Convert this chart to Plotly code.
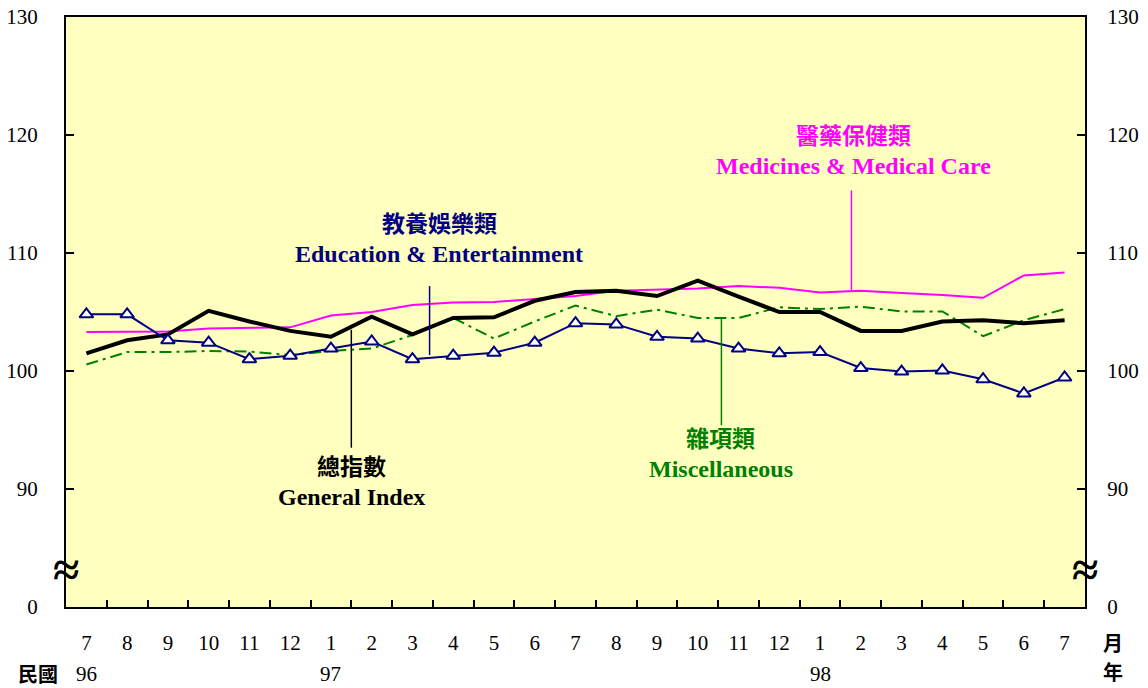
import plotly.graph_objects as go

months = ["7", "8", "9", "10", "11", "12", "1", "2", "3", "4", "5", "6", "7",
          "8", "9", "10", "11", "12", "1", "2", "3", "4", "5", "6", "7"]
year_labels = ["96", "97", "98"]
year_pos = [0, 6, 18]

general = [101.5, 102.6, 103.1, 105.1, 104.2, 103.4, 102.9, 104.6, 103.1, 104.5,
           104.55, 105.95, 106.7, 106.8, 106.35, 107.65, 106.3, 105.0, 105.0, 103.4,
           103.4, 104.2, 104.3, 104.05, 104.3]
medicine = [103.3, 103.3, 103.35, 103.6, 103.65, 103.7, 104.7, 105.0, 105.6, 105.8,
            105.85, 106.1, 106.35, 106.8, 106.9, 107.0, 107.2, 107.05, 106.65, 106.8,
            106.6, 106.45, 106.2, 108.1, 108.35]
misc = [100.55, 101.6, 101.6, 101.7, 101.65, 101.35, 101.7, 101.9, 103.05, 104.5,
        102.75, 104.2, 105.55, 104.65, 105.2, 104.5, 104.5, 105.4, 105.25, 105.45,
        105.05, 105.05, 102.95, 104.3, 105.25]
education = [104.8, 104.8, 102.6, 102.4, 101.0, 101.3, 101.9, 102.5, 101.0, 101.3,
             101.55, 102.4, 104.05, 103.95, 102.9, 102.75, 101.9, 101.5, 101.6, 100.25,
             99.95, 100.05, 99.3, 98.1, 99.45]

y_tickvals = [80, 90, 100, 110, 120, 130]
y_ticktext = ["0", "90", "100", "110", "120", "130"]

x = list(range(len(months)))
FONT = "Liberation Serif, Times New Roman, Noto Sans CJK TC, serif"
CJK = "Noto Sans CJK TC, Liberation Serif, serif"

fig = go.Figure()
fig.add_trace(go.Scatter(x=x, y=medicine, mode="lines",
                         line=dict(color="#FF00FF", width=2), name="Medicines"))
fig.add_trace(go.Scatter(x=x, y=misc, mode="lines",
                         line=dict(color="#008000", width=2, dash="12px,5px,3px,5px"), name="Misc"))
fig.add_trace(go.Scatter(x=x, y=general, mode="lines",
                         line=dict(color="black", width=4), name="General"))
fig.add_trace(go.Scatter(x=x, y=education, mode="lines+markers",
                         line=dict(color="#000080", width=2),
                         marker=dict(symbol="triangle-up", size=12, color="white",
                                     line=dict(color="#000080", width=2)),
                         name="Education"))
# invisible trace for right axis
fig.add_trace(go.Scatter(x=[0], y=[100], yaxis="y2", mode="markers",
                         marker=dict(opacity=0), showlegend=False, hoverinfo="skip"))

fig.update_layout(
    width=1148, height=688,
    margin=dict(l=66, r=63, t=17, b=81, autoexpand=False),
    paper_bgcolor="white", plot_bgcolor="#FFFFC0",
    showlegend=False,
    font=dict(family=FONT, size=21, color="black"),
    xaxis=dict(range=[-0.5, 24.5], tickvals=x, ticktext=months, ticks="",
               showgrid=False, zeroline=False, showline=True, linecolor="black",
               linewidth=2, mirror=True, ticklabelstandoff=16, automargin=False,
               tickfont=dict(family=FONT, size=21),
               minor=dict(tickvals=[i + 0.5 for i in range(24)], ticks="inside",
                          ticklen=7, tickwidth=2, tickcolor="black", showgrid=False)),
    yaxis=dict(range=[80, 130], tickvals=y_tickvals, ticktext=y_ticktext,
               ticks="inside", ticklen=8, tickwidth=2, tickcolor="black",
               showgrid=False, zeroline=False, showline=True, linecolor="black",
               linewidth=2, ticklabelstandoff=22, automargin=False,
               tickfont=dict(family=FONT, size=21)),
    yaxis2=dict(range=[80, 130], tickvals=y_tickvals, ticktext=y_ticktext,
                overlaying="y", side="right", anchor="x",
                ticks="inside", ticklen=8, tickwidth=2, tickcolor="black",
                showgrid=False, zeroline=False, showline=True, linecolor="black",
                linewidth=2, ticklabelstandoff=16, automargin=False,
                tickfont=dict(family=FONT, size=21)),
)

# year annotations
for lbl, pos in zip(year_labels, year_pos):
    fig.add_annotation(x=pos, y=-0.1136, xref="x", yref="paper", text=lbl,
                       showarrow=False, font=dict(family=FONT, size=21),
                       xanchor="center", yanchor="middle")
fig.add_annotation(x=-0.0275, y=-0.112, xref="paper", yref="paper", text="<b>民國</b>",
                   showarrow=False, font=dict(family=CJK, size=20),
                   xanchor="center", yanchor="middle", borderpad=0)
fig.add_annotation(x=1.0275, y=-0.061, xref="paper", yref="paper", text="<b>月</b>",
                   showarrow=False, font=dict(family=CJK, size=20),
                   xanchor="center", yanchor="middle", borderpad=0)
fig.add_annotation(x=1.0275, y=-0.11, xref="paper", yref="paper", text="<b>年</b>",
                   showarrow=False, font=dict(family=CJK, size=20),
                   xanchor="center", yanchor="middle", borderpad=0)

# axis break symbols
for xp in [0, 1]:
    fig.add_annotation(x=xp, y=83.2, xref="paper", yref="y", text="<b>≈</b>", showarrow=False,
                       font=dict(family=FONT, size=48, color="black"),
                       xanchor="center", yanchor="middle")

# series labels and leader lines
labels = [
    ("教養娛樂類", "Education & Entertainment", "#000080", 8.66, 112.6, 109.9, 8.42, 107.2, 101.35),
    ("醫藥保健類", "Medicines & Medical Care", "#FF00FF", 18.82, 120.1, 117.4, 18.77, 115.3, 106.86),
    ("總指數", "General Index", "black", 6.5, 92.0, 89.3, 6.5, 103.5, 93.5),
    ("雜項類", "Miscellaneous", "#008000", 15.56, 94.4, 91.7, 15.58, 104.5, 95.4),
]
for zh, en, col, tx, yz, ye, lx, ly0, ly1 in labels:
    fig.add_annotation(x=tx, y=yz, text=f"<b>{zh}</b>", showarrow=False,
                       font=dict(family=CJK, size=23, color=col),
                       xanchor="center", yanchor="middle")
    fig.add_annotation(x=tx, y=ye, text=f"<b>{en}</b>", showarrow=False,
                       font=dict(family=FONT, size=24, color=col),
                       xanchor="center", yanchor="middle")
    fig.add_shape(type="line", x0=lx, x1=lx, y0=ly0, y1=ly1, xref="x", yref="y",
                  line=dict(color=col, width=1.5))

fig.write_html("out.html", post_script="document.body.style.margin='0';",
               config={"displayModeBar": False})
